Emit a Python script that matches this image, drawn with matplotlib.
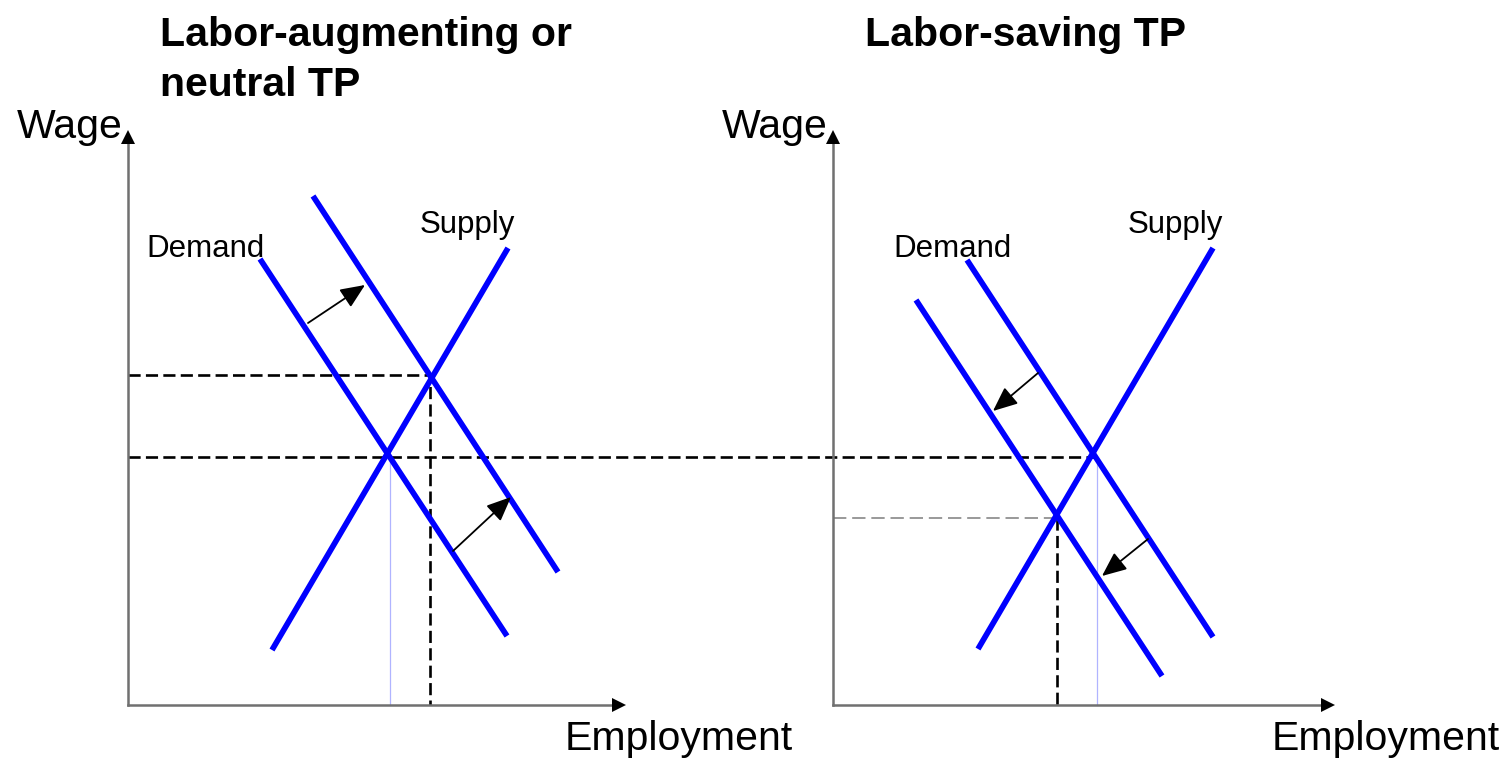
import matplotlib.pyplot as plt

plt.rcParams['font.family'] = ['Liberation Sans', 'DejaVu Sans']

# 좌표는 그림 픽셀 기준 (y는 아래로 증가)
# 왼쪽: labor-augmenting / neutral
L_supply_x = [272, 508]
L_supply_y = [650, 248]
L_dem0_x = [260, 507]
L_dem0_y = [259, 636]
L_dem1_x = [313, 558]
L_dem1_y = [196, 572]
L_eq0 = (388, 457)
L_eq1 = (430, 375)
L_shift = [((308, 323), (365, 285)), ((453, 551), (511, 497))]

# 오른쪽: labor-saving
R_supply_x = [978, 1213]
R_supply_y = [649, 248]
R_dem0_x = [967, 1213]
R_dem0_y = [260, 637]
R_dem1_x = [916, 1162]
R_dem1_y = [300, 676]
R_eq0 = (1095, 457)
R_eq1 = (1057, 518)
R_shift = [((1038, 373), (993, 411)), ((1148, 539), (1102, 576))]

# 축 (원점, x끝, y끝)
L_origin = (128, 705)
R_origin = (833, 705)
L_xend, L_ytop = 625, 130
R_xend, R_ytop = 1334, 130

blue = '#0000ff'
dash = (0, (4.6, 2.0))

fig = plt.figure(figsize=(15.08, 7.59), dpi=100)
ax = fig.add_axes([0, 0, 1, 1])
ax.set_xlim(0, 1508)
ax.set_ylim(759, 0)
ax.axis('off')


def draw_axes(origin, xend, ytop):
    ox, oy = origin
    ax.plot([ox, xend - 6], [oy, oy], color='#707070', lw=1.8, zorder=2)
    ax.plot([ox, ox], [oy, ytop + 6], color='#707070', lw=1.8, zorder=2)
    ax.plot(xend - 6.5, oy, marker='>', ms=9.5, color='black', mew=0, zorder=3)
    ax.plot(ox, ytop + 6.5, marker='^', ms=9.5, color='black', mew=0, zorder=3)


draw_axes(L_origin, L_xend, L_ytop)
draw_axes(R_origin, R_xend, R_ytop)

# 점선 (균형점)
ax.plot([L_origin[0], R_eq0[0]], [L_eq0[1], R_eq0[1]], color='black', lw=1.9, ls=dash, zorder=1)
ax.plot([L_origin[0], L_eq1[0], L_eq1[0]], [L_eq1[1], L_eq1[1], L_origin[1]],
        color='black', lw=1.9, ls=dash, zorder=1)
ax.plot([R_origin[0], R_eq1[0]], [R_eq1[1], R_eq1[1]], color='#888888', lw=1.2,
        ls=(0, (8, 3.5)), zorder=1)
ax.plot([R_eq1[0], R_eq1[0]], [R_eq1[1], R_origin[1]], color='black', lw=1.9, ls=dash, zorder=1)

# 옅은 파란 세로선
ax.plot([L_eq0[0] + 2, L_eq0[0] + 2], [L_eq0[1], L_origin[1]], color='#b0b4ff', lw=0.9, zorder=1)
ax.plot([R_eq0[0] + 2, R_eq0[0] + 2], [R_eq0[1], R_origin[1]], color='#b0b4ff', lw=0.9, zorder=1)

# 수요, 공급 곡선
for xs, ys in [(L_supply_x, L_supply_y), (L_dem0_x, L_dem0_y), (L_dem1_x, L_dem1_y),
               (R_supply_x, R_supply_y), (R_dem0_x, R_dem0_y), (R_dem1_x, R_dem1_y)]:
    ax.plot(xs, ys, color=blue, lw=4.1, solid_capstyle='butt', zorder=4)

# 이동 화살표
for start, end in L_shift + R_shift:
    ax.annotate('', xy=end, xytext=start,
                arrowprops=dict(arrowstyle='-|>,head_length=1.5,head_width=0.65',
                                color='black', lw=1.3, shrinkA=0, shrinkB=0,
                                mutation_scale=10),
                zorder=5)

# 글자
ax.text(160, 46, 'Labor-augmenting or', fontsize=29.5, fontweight='bold', va='baseline')
ax.text(160, 96, 'neutral TP', fontsize=29.5, fontweight='bold', va='baseline')
ax.text(865, 46, 'Labor-saving TP', fontsize=29.5, fontweight='bold', va='baseline')

ax.text(17, 138, 'Wage', fontsize=29.5, va='baseline')
ax.text(722, 138, 'Wage', fontsize=29.5, va='baseline')
ax.text(565, 750, 'Employment', fontsize=29.5, va='baseline')
ax.text(1272, 750, 'Employment', fontsize=29.5, va='baseline')

ax.text(146, 257, 'Demand', fontsize=22.5, va='baseline')
ax.text(420, 233, 'Supply', fontsize=22.5, va='baseline')
ax.text(893, 257, 'Demand', fontsize=22.5, va='baseline')
ax.text(1128, 233, 'Supply', fontsize=22.5, va='baseline')

fig.savefig('out.png', dpi=100)
